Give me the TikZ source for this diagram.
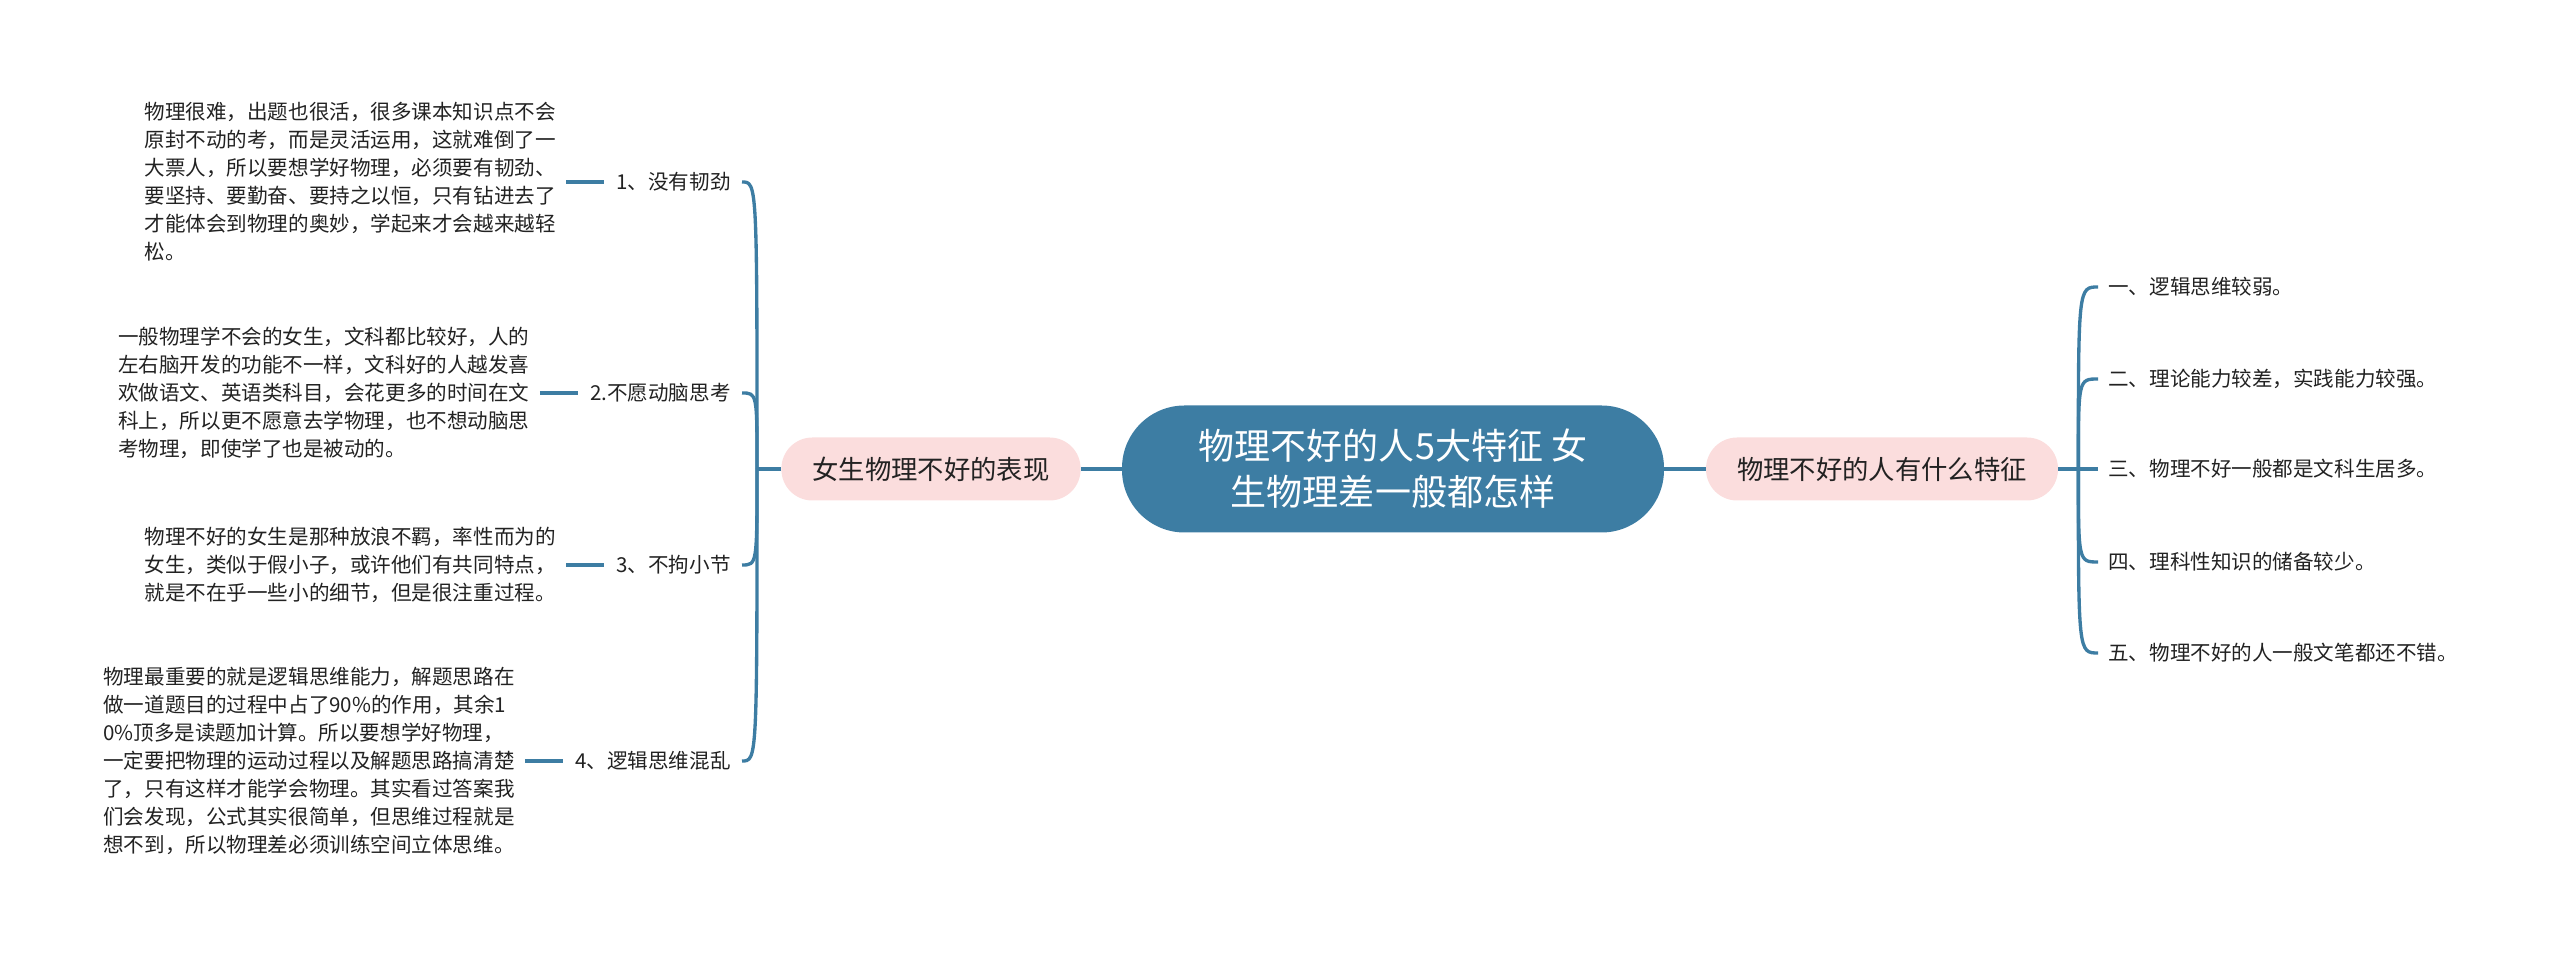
\documentclass[tikz,border=0pt]{standalone}
\usepackage{fontspec}
\setmainfont{Noto Sans CJK SC}
\usetikzlibrary{positioning}
\definecolor{mapblue}{RGB}{61,125,163}
\definecolor{mappink}{RGB}{251,221,221}
\definecolor{maptext}{RGB}{34,34,34}
\begin{document}
\begin{tikzpicture}[
  link/.style={draw=mapblue, line width=1.9pt},
  centre/.style={fill=mapblue, text=white, rounded corners=1.25cm, minimum width=10.84cm,
    minimum height=2.54cm, align=center, font=\fontsize{20.5}{26}\selectfont},
  branch/.style={fill=mappink, text=maptext, rounded corners=0.62cm, minimum height=1.26cm,
    inner xsep=0.62cm, font=\fontsize{15}{18}\selectfont},
  leaf/.style={inner sep=0pt, text=maptext, font=\fontsize{11.7}{15.9}\selectfont},
  para/.style={leaf, align=left, left=1.2cm of #1}
]
\useasboundingbox (0,0) rectangle (51.2,19.08);
\node[centre] (root) at (27.86,9.7) {物理不好的人5大特征 女\\生物理差一般都怎样};
\node[branch] (lb) at (18.62,9.7) {女生物理不好的表现};
\node[branch] (rb) at (37.64,9.7) {物理不好的人有什么特征};
\draw[link] (root) -- (lb);
\draw[link] (root) -- (rb);

\node[leaf, anchor=east] (l1) at (14.62,15.44) {1、没有韧劲};
\node[leaf, anchor=east] (l2) at (14.62,11.22) {2.不愿动脑思考};
\node[leaf, anchor=east] (l3) at (14.62,7.78) {3、不拘小节};
\node[leaf, anchor=east] (l4) at (14.62,3.86) {4、逻辑思维混乱};

\node[para=l1] (p1) {物理很难，出题也很活，很多课本知识点不会\\
  原封不动的考，而是灵活运用，这就难倒了一\\
  大票人，所以要想学好物理，必须要有韧劲、\\
  要坚持、要勤奋、要持之以恒，只有钻进去了\\
  才能体会到物理的奥妙，学起来才会越来越轻\\
  松。};
\node[para=l2] (p2) {一般物理学不会的女生，文科都比较好，人的\\
  左右脑开发的功能不一样，文科好的人越发喜\\
  欢做语文、英语类科目，会花更多的时间在文\\
  科上，所以更不愿意去学物理，也不想动脑思\\
  考物理，即使学了也是被动的。};
\node[para=l3] (p3) {物理不好的女生是那种放浪不羁，率性而为的\\
  女生，类似于假小子，或许他们有共同特点，\\
  就是不在乎一些小的细节，但是很注重过程。};
\node[para=l4] (p4) {物理最重要的就是逻辑思维能力，解题思路在\\
  做一道题目的过程中占了90\%的作用，其余1\\
  0\%顶多是读题加计算。所以要想学好物理，\\
  一定要把物理的运动过程以及解题思路搞清楚\\
  了，只有这样才能学会物理。其实看过答案我\\
  们会发现，公式其实很简单，但思维过程就是\\
  想不到，所以物理差必须训练空间立体思维。};

\coordinate (lj) at ([xshift=-0.48cm]lb.west);
\draw[link] (lb.west) -- (lj);
\foreach \n in {1,...,4} {
  \draw[link] (lj) .. controls (lj |- l\n) .. ([xshift=0.22cm]l\n.east);
  \draw[link, shorten <=0.2cm, shorten >=0.24cm] (p\n) -- (l\n);
}

\coordinate (rj) at ([xshift=0.4cm]rb.east);
\draw[link] (rb.east) -- (rj);
\foreach \n/\y/\t in {1/13.34/一、逻辑思维较弱。, 2/11.5/二、理论能力较差，实践能力较强。,
    3/9.7/三、物理不好一般都是文科生居多。, 4/7.84/四、理科性知识的储备较少。,
    5/6.02/五、物理不好的人一般文笔都还不错。} {
  \node[leaf, anchor=west] (r\n) at (42.16,\y) {\t};
  \draw[link] (rj) .. controls (rj |- r\n) .. ([xshift=-0.2cm]r\n.west);
}
\end{tikzpicture}
\end{document}
